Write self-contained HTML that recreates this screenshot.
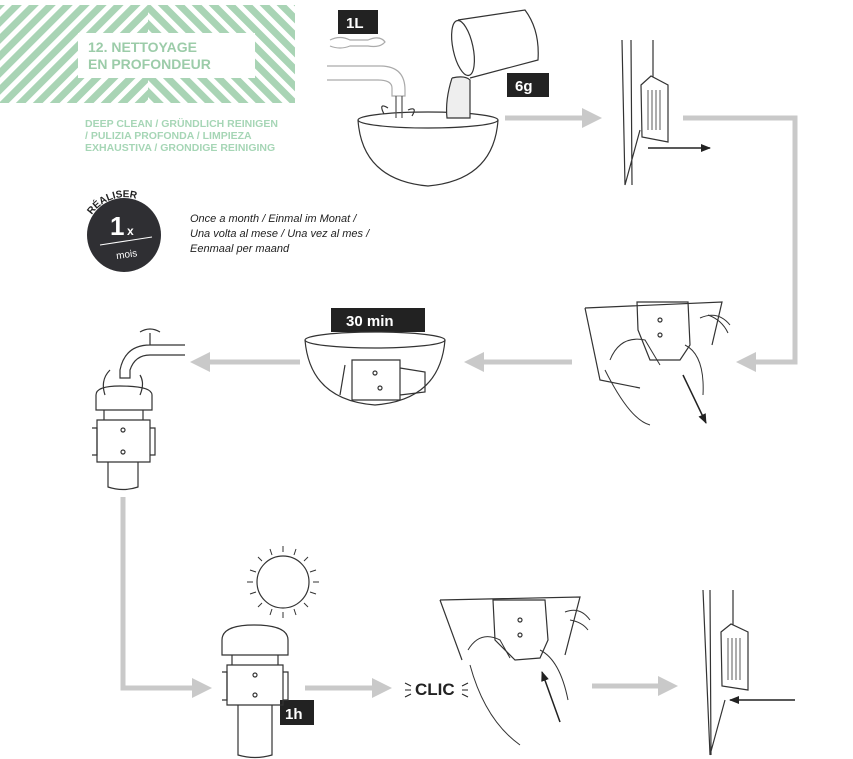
<!DOCTYPE html>
<html><head><meta charset="utf-8"><style>
body{margin:0;background:#fff;}
svg{display:block;font-family:"Liberation Sans",sans-serif;}
</style></head><body>
<svg width="853" height="759" viewBox="0 0 853 759" xmlns="http://www.w3.org/2000/svg">
<defs>
<pattern id="st" width="12" height="12" patternUnits="userSpaceOnUse" patternTransform="rotate(45)">
<rect width="12" height="12" fill="#fff"/><rect width="7" height="12" fill="#a9d4b5"/>
</pattern>
<pattern id="st2" width="12" height="12" patternUnits="userSpaceOnUse" patternTransform="rotate(-45)">
<rect width="12" height="12" fill="#fff"/><rect width="7" height="12" fill="#a9d4b5"/>
</pattern>
<marker id="ga" markerWidth="4" markerHeight="4" refX="2" refY="2" orient="auto" markerUnits="strokeWidth"><path d="M0,0 L4,2 L0,4 Z" fill="#c9c9c9"/></marker>
<marker id="ba" markerWidth="10" markerHeight="8" refX="9" refY="4" orient="auto" markerUnits="userSpaceOnUse"><path d="M0,0 L10,4 L0,8 Z" fill="#222"/></marker>
<path id="arc" d="M88,222 A40,40 0 0 1 162,222"/>
</defs>

<!-- header pattern -->
<rect x="0" y="5" width="148" height="98" fill="url(#st)"/>
<rect x="148" y="5" width="147" height="98" fill="url(#st2)"/>
<rect x="78" y="33" width="177" height="45" fill="#fff"/>
<text x="88" y="52" font-size="14" font-weight="bold" fill="#9ccca9">12. NETTOYAGE</text>
<text x="88" y="69" font-size="14" font-weight="bold" fill="#9ccca9">EN PROFONDEUR</text>
<g font-size="10.5" font-weight="bold" fill="#a6d6b6">
<text x="85" y="127">DEEP CLEAN / GRÜNDLICH REINIGEN</text>
<text x="85" y="139">/ PULIZIA PROFONDA / LIMPIEZA</text>
<text x="85" y="151">EXHAUSTIVA / GRONDIGE REINIGING</text>
</g>

<!-- badge -->
<circle cx="124" cy="235" r="37" fill="#2f2f33"/>
<text font-size="10" font-weight="bold" fill="#222"><textPath href="#arc" startOffset="8">RÉALISER</textPath></text>
<text x="110" y="235" font-size="26" font-weight="bold" fill="#fff">1</text>
<text x="127" y="235" font-size="12" font-weight="bold" fill="#fff">x</text>
<line x1="100" y1="245" x2="152" y2="237" stroke="#fff" stroke-width="1"/>
<text x="116" y="258" font-size="10" fill="#fff" transform="rotate(-8 124 254)">mois</text>
<g font-size="11" font-style="italic" fill="#222">
<text x="190" y="222">Once a month / Einmal im Monat /</text>
<text x="190" y="237">Una volta al mese / Una vez al mes /</text>
<text x="190" y="252">Eenmaal per maand</text>
</g>

<!-- gray connectors -->
<g stroke="#c9c9c9" stroke-width="5" fill="none">
<line x1="505" y1="118" x2="592" y2="118" marker-end="url(#ga)"/>
<polyline points="683,118 795,118 795,362 746,362" marker-end="url(#ga)"/>
<line x1="572" y1="362" x2="474" y2="362" marker-end="url(#ga)"/>
<line x1="300" y1="362" x2="200" y2="362" marker-end="url(#ga)"/>
<polyline points="123,497 123,688 202,688" marker-end="url(#ga)"/>
<line x1="305" y1="688" x2="382" y2="688" marker-end="url(#ga)"/>
<line x1="592" y1="686" x2="668" y2="686" marker-end="url(#ga)"/>
</g>

<!-- black arrows -->
<g stroke="#222" stroke-width="1.5">
<line x1="648" y1="148" x2="710" y2="148" marker-end="url(#ba)"/>
<line x1="683" y1="375" x2="706" y2="423" marker-end="url(#ba)"/>
<line x1="560" y1="722" x2="542" y2="672" marker-end="url(#ba)"/>
<line x1="795" y1="700" x2="730" y2="700" marker-end="url(#ba)"/>
</g>

<!-- labels -->
<rect x="338" y="10" width="40" height="24" fill="#222"/><text x="346" y="28" font-size="15" font-weight="bold" fill="#fff">1L</text>
<rect x="507" y="73" width="42" height="24" fill="#222"/><text x="515" y="91" font-size="15" font-weight="bold" fill="#fff">6g</text>
<rect x="331" y="308" width="94" height="24" fill="#222"/><text x="346" y="326" font-size="15" font-weight="bold" fill="#fff">30 min</text>
<rect x="280" y="700" width="34" height="25" fill="#222"/><text x="285" y="719" font-size="15" font-weight="bold" fill="#fff">1h</text>
<text x="415" y="695" font-size="17" font-weight="bold" fill="#222">CLIC</text>
<g stroke="#222" stroke-width="1"><line x1="405" y1="683" x2="411" y2="686"/><line x1="405" y1="690" x2="411" y2="690"/><line x1="405" y1="697" x2="411" y2="694"/><line x1="462" y1="686" x2="468" y2="683"/><line x1="462" y1="690" x2="468" y2="690"/><line x1="462" y1="694" x2="468" y2="697"/></g>

<!-- line art -->
<g stroke="#333" stroke-width="1.2" fill="none">
<!-- top bowl -->
<ellipse cx="428" cy="120" rx="70" ry="8"/>
<path d="M358,120 Q362,180 428,186 Q494,180 498,120"/>
<!-- faucet -->
<path d="M330,40 Q340,35 350,40 L368,40 Q380,35 385,42 Q380,48 368,46 L350,46 Q340,50 330,46" stroke="#aaa"/>
<path d="M327,66 L380,66 Q405,66 405,90 L405,96 L392,96 L392,88 Q392,80 378,80 L327,80" stroke="#aaa"/>
<path d="M396,96 L396,118 M402,96 L402,118" stroke="#555"/>
<path d="M388,108 Q378,102 384,114 M408,110 Q418,106 412,116"/>
<!-- jar -->
<path d="M458,20 L525,10 Q540,30 538,60 L470,78"/>
<ellipse cx="463" cy="48" rx="10" ry="28" transform="rotate(-12 463 48)"/>
<path d="M452,78 Q465,75 470,80 L470,118 L447,118 Q445,100 452,78" fill="#eee"/>
<!-- top wall -->
<path d="M622,40 L625,185 L640,130 M631,40 L632,185"/>
<path d="M653,40 L653,77 M641,85 L651,76 L668,85 L668,142 L642,137 Z"/>
<path d="M648,90 L648,130 M652,90 L652,130 M656,90 L656,130 M660,90 L660,130" stroke-width="0.8"/>
<!-- hand top right -->
<path d="M585,308 L722,302 L712,345 M585,308 L600,380 L640,388"/>
<path d="M637,302 L688,302 L690,345 L680,360 L650,360 L638,330 Z"/>
<circle cx="660" cy="320" r="2"/><circle cx="660" cy="335" r="2"/>
<path d="M610,360 Q620,335 645,340 L660,365 M605,370 Q630,420 650,425 M685,345 Q705,355 703,395 M700,318 Q718,310 730,325 M708,315 Q722,320 728,333" stroke-width="1"/>
<!-- bowl 30min -->
<ellipse cx="375" cy="340" rx="70" ry="8"/>
<path d="M305,340 Q310,400 375,405 Q440,400 445,340"/>
<path d="M345,365 L340,395 M352,360 L400,360 L400,400 L352,400 Z M400,368 L425,372 L425,392 L400,395"/>
<circle cx="375" cy="373" r="2"/><circle cx="380" cy="388" r="2"/>
<!-- faucet + filter -->
<path d="M150,333 L150,345 Q125,345 120,370 L120,378 L130,378 L130,370 Q135,355 150,355 L185,355 M150,345 L185,345"/>
<path d="M140,332 Q150,326 160,332"/>
<path d="M105,395 Q100,380 110,370 M140,395 Q145,383 140,375"/>
<path d="M96,395 Q96,386 120,386 Q152,386 152,395 L152,410 L96,410 Z"/>
<path d="M104,410 L104,420 L143,420 L143,410 M97,420 L150,420 L150,462 L97,462 Z"/>
<circle cx="123" cy="430" r="2"/><circle cx="123" cy="452" r="2"/>
<path d="M92,428 L97,428 L97,455 L92,455 M150,428 L155,428 L155,455 L150,455"/>
<path d="M108,462 L108,487 Q123,492 138,487 L138,462"/>
<!-- sun -->
<circle cx="283" cy="582" r="26"/>
<g stroke-width="1">
<line x1="283" y1="546" x2="283" y2="552"/><line x1="283" y1="612" x2="283" y2="618"/>
<line x1="247" y1="582" x2="253" y2="582"/><line x1="313" y1="582" x2="319" y2="582"/>
<line x1="258" y1="557" x2="262" y2="561"/><line x1="304" y1="603" x2="308" y2="607"/>
<line x1="308" y1="557" x2="304" y2="561"/><line x1="262" y1="603" x2="258" y2="607"/>
<line x1="270" y1="549" x2="272" y2="555"/><line x1="296" y1="549" x2="294" y2="555"/>
<line x1="270" y1="615" x2="272" y2="609"/><line x1="296" y1="615" x2="294" y2="609"/>
<line x1="250" y1="570" x2="256" y2="572"/><line x1="316" y1="570" x2="310" y2="572"/>
<line x1="250" y1="594" x2="256" y2="592"/><line x1="316" y1="594" x2="310" y2="592"/>
</g>
<!-- filter 2 -->
<path d="M222,640 Q222,625 254,625 Q288,625 288,640 L288,655 L222,655 Z"/>
<path d="M232,655 L232,665 L278,665 L278,655 M227,665 L283,665 L283,705 L227,705 Z"/>
<circle cx="255" cy="675" r="2"/><circle cx="255" cy="695" r="2"/>
<path d="M222,672 L227,672 L227,700 L222,700 M283,672 L288,672 L288,700 L283,700"/>
<path d="M238,705 L238,755 Q255,760 272,755 L272,705"/>
<!-- hand bottom -->
<path d="M440,600 L580,597 L565,655 M440,600 L462,660"/>
<path d="M493,600 L545,600 L548,640 L540,658 L515,660 L495,640 Z"/>
<circle cx="520" cy="620" r="2"/><circle cx="520" cy="635" r="2"/>
<path d="M468,650 Q480,630 500,640 L510,658 M470,665 Q485,720 520,745 M540,650 Q560,660 568,700 M565,612 Q580,606 590,620 M570,620 Q582,622 588,630" stroke-width="1"/>
<!-- wall bottom -->
<path d="M703,590 L710,755 L725,700 M710,590 L711,755"/>
<path d="M733,590 L733,625 M721,632 L731,624 L748,632 L748,690 L722,686 Z"/>
<path d="M728,638 L728,680 M732,638 L732,680 M736,638 L736,680 M740,638 L740,680" stroke-width="0.8"/>
</g>
</svg>
</body></html>
